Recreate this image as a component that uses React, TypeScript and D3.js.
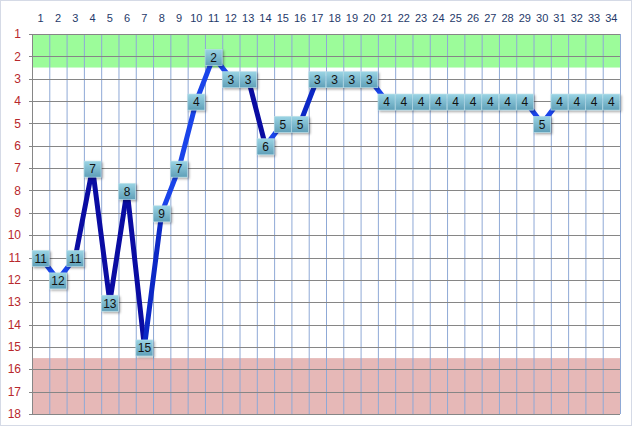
import React, { useEffect } from "react";
import * as d3 from "d3";

const categories = d3.range(1, 35).map(String);
const ranks = [11, 12, 11, 7, 13, 8, 15, 9, 7, 4, 2, 3, 3, 6, 5, 5, 3, 3, 3, 3, 4, 4, 4, 4, 4, 4, 4, 4, 4, 5, 4, 4, 4, 4];
const yTicks = d3.range(1, 19);
const goodZone = [1, 2.5];
const badZone = [15.5, 18];
// shade of each segment: 0 bright, 1 medium, 2 dark
const segmentShade = [0, 0, 2, 2, 2, 2, 1, 0, 0, 0, 0, 0, 2, 0, 0, 1, 0, 0, 0, 0, 0, 0, 0, 0, 0, 0, 0, 0, 0, 0, 0, 0, 0];
const shadeColors = ["#1a44ea", "#0c28c6", "#0a0ca2"];

const W = 632, H = 426;
const left = 32, right = 620, top = 34, bottom = 414;

export default function App() {
  useEffect(() => {
    document.body.style.margin = "0";
  }, []);
  const x = d3.scaleBand().domain(categories).range([left, right]).padding(0);
  const y = d3.scaleLinear().domain([1, 18]).range([top, bottom]);
  const cx = (i: number) => (x(categories[i]) as number) + x.bandwidth() / 2;
  const font = "'Liberation Sans', Arial, sans-serif";
  const boxW = 17, boxH = 16;
  return (
    <svg width={W} height={H} style={{ display: "block" }}>
      <defs>
        <linearGradient id="boxg" x1="0" y1="0" x2="0" y2="1">
          <stop offset="0" stopColor="#9ad4e4" />
          <stop offset="1" stopColor="#5f9fb8" />
        </linearGradient>
        <filter id="sh" x="-30%" y="-30%" width="180%" height="180%">
          <feDropShadow dx="1.5" dy="1.5" stdDeviation="1" floodColor="#000" floodOpacity="0.35" />
        </filter>
      </defs>
      <rect x={0.5} y={0.5} width={W - 1} height={H - 1} fill="#fff" stroke="#d5dae6" />
      {/* zones */}
      <rect x={left} y={y(goodZone[0])} width={right - left} height={y(goodZone[1]) - y(goodZone[0])} fill="#9cfc9a" />
      <rect x={left} y={y(badZone[0])} width={right - left} height={y(badZone[1]) - y(badZone[0])} fill="#e6b8b7" />
      {/* vertical grid */}
      {categories.map((c) => (
        <line key={"v" + c} x1={(x(c) as number) + 0.5} x2={(x(c) as number) + 0.5} y1={top} y2={bottom} stroke="#8fa9d6" strokeWidth={1} />
      ))}
      <line x1={right + 0.5} x2={right + 0.5} y1={top} y2={bottom} stroke="#8fa9d6" />
      {/* horizontal grid */}
      {yTicks.map((t) => (
        <line key={"h" + t} x1={left - 3} x2={right} y1={Math.round(y(t)) + 0.5} y2={Math.round(y(t)) + 0.5} stroke="#868686" strokeWidth={1} />
      ))}
      <line x1={left + 0.5} x2={left + 0.5} y1={top} y2={bottom} stroke="#868686" />
      {/* y labels */}
      {yTicks.map((t) => (
        <text key={"yl" + t} x={21} y={y(t)} dy="0.35em" textAnchor="end" fontFamily={font} fontSize={12} fill="#b8282c">{t}</text>
      ))}
      {/* x labels */}
      {categories.map((c, i) => (
        <text key={"xl" + c} x={cx(i)} y={18} dy="0.35em" textAnchor="middle" fontFamily={font} fontSize={11} fill="#1f3a6a">{c}</text>
      ))}
      {/* line segments */}
      {ranks.slice(0, -1).map((v, i) => (
        <line key={"s" + i} x1={cx(i)} y1={y(v)} x2={cx(i + 1)} y2={y(ranks[i + 1])} stroke={shadeColors[segmentShade[i]]} strokeWidth={5} strokeLinecap="round" />
      ))}
      {/* labels */}
      {ranks.map((v, i) => (
        <g key={"b" + i} transform={`translate(${cx(i)},${y(v) + 1})`}>
          <rect x={-boxW / 2} y={-boxH / 2} width={boxW} height={boxH} fill="url(#boxg)" stroke="#b9e0ea" strokeWidth={0.6} filter="url(#sh)" />
          <text x={0} y={0} dy="0.36em" textAnchor="middle" fontFamily={font} fontSize={12} fill="#111">{v}</text>
        </g>
      ))}
    </svg>
  );
}
